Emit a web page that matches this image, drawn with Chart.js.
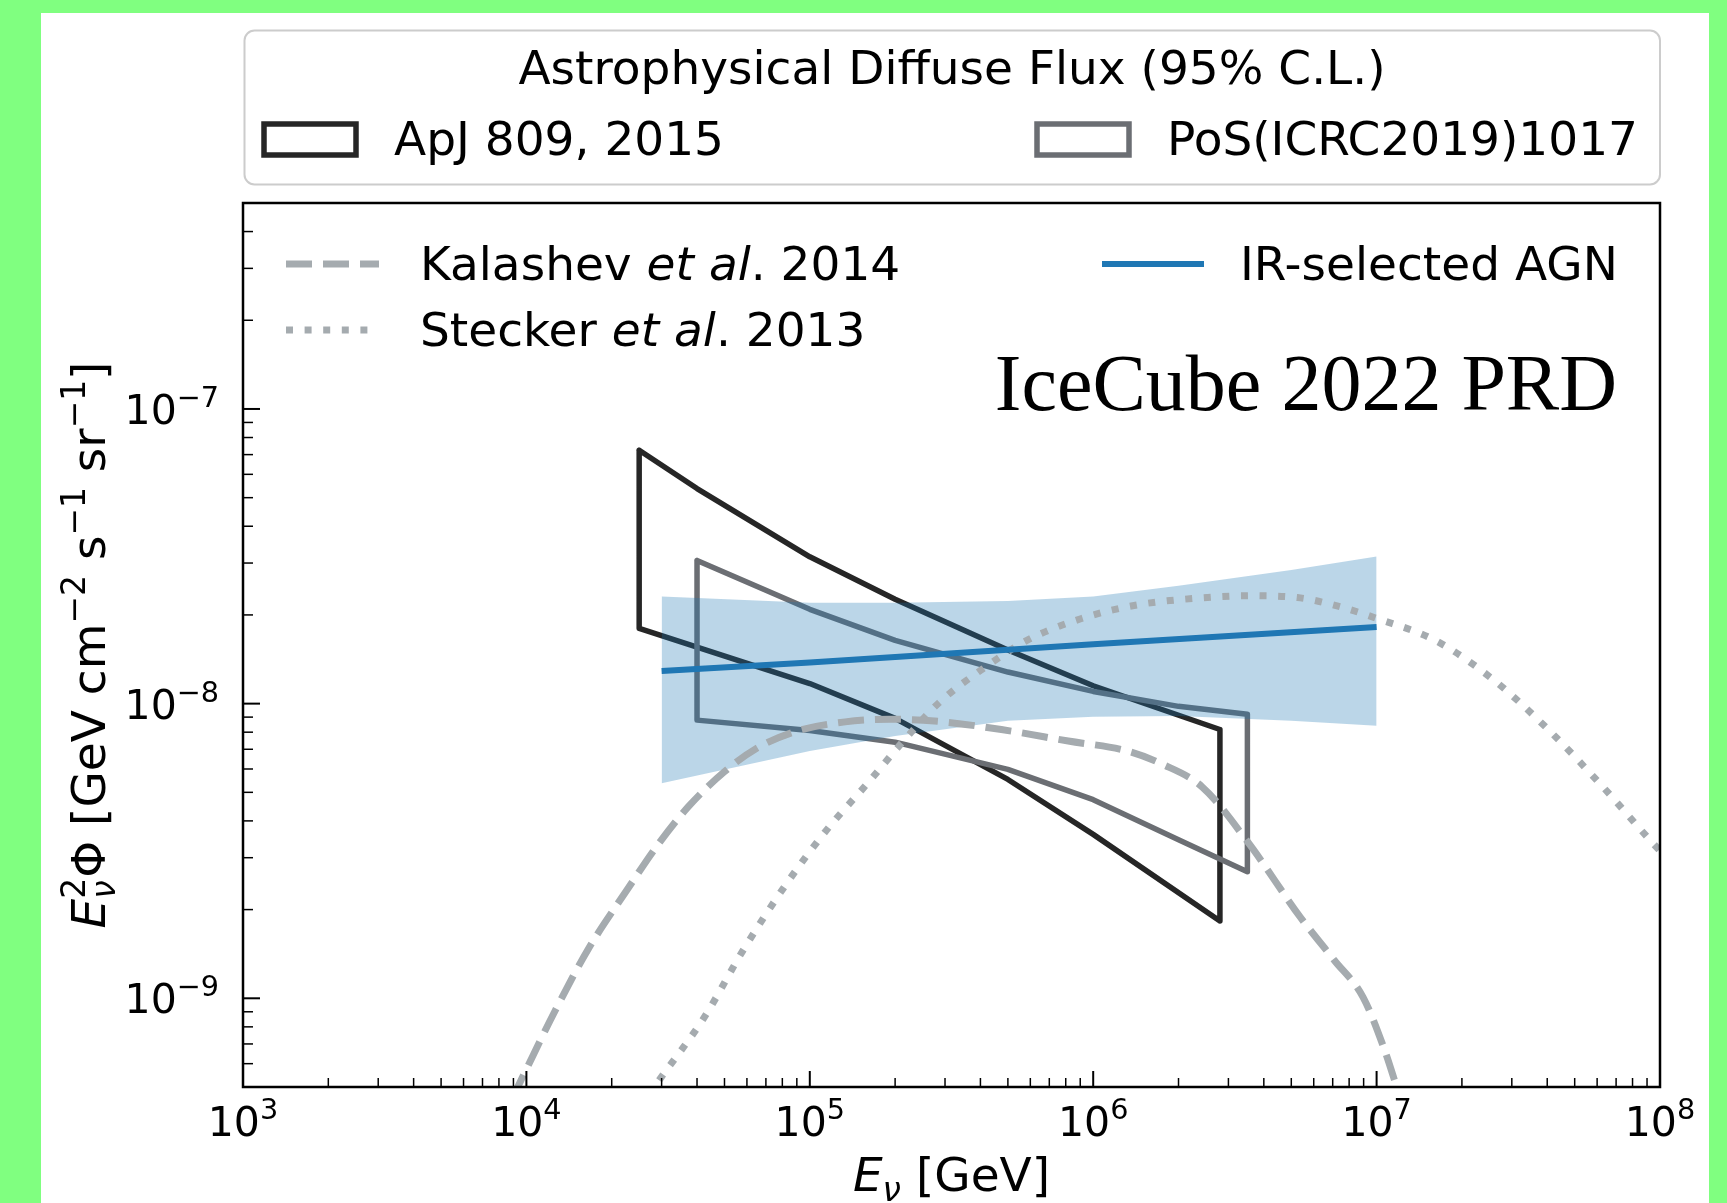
<!DOCTYPE html>
<html>
<head>
<meta charset="utf-8">
<title>Diffuse neutrino flux vs IR-selected AGN</title>
<script src="https://cdn.jsdelivr.net/npm/chart.js@4.4.0/dist/chart.umd.min.js"></script>
<style>
  html, body { margin: 0; padding: 0; }
  body { width: 1727px; height: 1203px; background: #80ff80; position: relative; overflow: hidden; }
  #panel { position: absolute; left: 41px; top: 13px; width: 1668px; height: 1190px; background: #fff; }
  #chart { position: absolute; left: 0; top: 0; }
</style>
</head>
<body>
<div id="panel"></div>
<canvas id="chart" width="1727" height="1203"></canvas>
<script>
// energies in GeV, fluxes as E^2 Phi in GeV cm^-2 s^-1 sr^-1

// ApJ 809 (2015) butterfly
const apjEnergy = [2.5e4, 4e4, 1e5, 2e5, 5e5, 1e6, 2.8e6];
const apjUpper  = [7.24e-8, 5.37e-8, 3.15e-8, 2.26e-8, 1.52e-8, 1.15e-8, 8.17e-9];
const apjLower  = [1.80e-8, 1.556e-8, 1.17e-8, 8.91e-9, 5.53e-9, 3.60e-9, 1.83e-9];

// PoS(ICRC2019)1017 butterfly
const posEnergy = [4e4, 1e5, 2e5, 5e5, 1e6, 2e6, 3.5e6];
const posUpper  = [3.06e-8, 2.09e-8, 1.64e-8, 1.28e-8, 1.10e-8, 9.79e-9, 9.20e-9];
const posLower  = [8.79e-9, 8.11e-9, 7.40e-9, 5.98e-9, 4.72e-9, 3.45e-9, 2.69e-9];

// IR-selected AGN best fit and its band
const agnEnergy = [3e4, 1e5, 1e6, 1e7];
const agnFlux   = [1.29e-8, 1.38e-8, 1.59e-8, 1.82e-8];
const bandEnergy = [3e4, 1e5, 2e5, 5e5, 1e6, 2e6, 5e6, 1e7];
const bandUpper  = [2.31e-8, 2.20e-8, 2.20e-8, 2.23e-8, 2.31e-8, 2.51e-8, 2.84e-8, 3.16e-8];
const bandLower  = [5.37e-9, 6.90e-9, 7.76e-9, 8.75e-9, 9.02e-9, 9.08e-9, 8.75e-9, 8.41e-9];

// Kalashev et al. 2014
const kalashevEnergy = [8913, 10000, 12589, 16596, 22542, 29040, 37411, 50003, 64565, 89331,
  133352, 191426, 275423, 474242, 816582, 1.309e6, 1.750e6, 2.427e6, 3.483e6, 5.383e6,
  7.079e6, 8.954e6, 1.057e7, 1.178e7, 1.230e7];
const kalashevFlux = [4.57e-10, 5.75e-10, 9.02e-10, 1.479e-9, 2.317e-9, 3.311e-9, 4.487e-9,
  5.875e-9, 7.031e-9, 8.054e-9, 8.670e-9, 8.851e-9, 8.730e-9, 8.166e-9, 7.464e-9, 6.918e-9,
  6.237e-9, 5.212e-9, 3.428e-9, 1.884e-9, 1.349e-9, 1.009e-9, 6.85e-10, 4.99e-10, 4.37e-10];

// Stecker et al. 2013
const steckerEnergy = [26915, 29717, 42462, 58076, 83176, 115345, 159956, 213796, 285759,
  410204, 590201, 909913, 1.409e6, 2.259e6, 3.548e6, 5.248e6, 7.482e6, 1.009e7, 1.607e7,
  2.553e7, 3.954e7, 6.295e7, 9.226e7, 1.047e8];
const steckerFlux = [4.68e-10, 5.35e-10, 8.63e-10, 1.452e-9, 2.466e-9, 3.75e-9, 5.37e-9,
  7.46e-9, 1.007e-8, 1.318e-8, 1.648e-8, 1.945e-8, 2.158e-8, 2.275e-8, 2.323e-8, 2.291e-8,
  2.128e-8, 1.941e-8, 1.641e-8, 1.216e-8, 8.32e-9, 5.21e-9, 3.44e-9, 3.02e-9];

// axis decades for the tick labels
const xTickExponents = [3, 4, 5, 6, 7, 8];
const yTickExponents = [-9, -8, -7];

const SANS = '"DejaVu Sans", "Liberation Sans", sans-serif';
const SERIF = '"Liberation Serif", "DejaVu Serif", serif';
const fontOf = (px, italic) => (italic ? 'italic ' : '') + px + 'px ' + SANS;

const toPoints = (xs, ys) => xs.map((x, i) => ({ x: x, y: ys[i] }));
const outline = (xs, upper, lower) => {
  const pts = toPoints(xs, upper).concat(toPoints(xs, lower).reverse());
  pts.push(pts[0]);
  return pts;
};

// lay out text runs with sub/superscripts; "stack" puts the next run at the same x
function layoutRuns(ctx, runs, size) {
  let x = 0, pending = null;
  const placed = [];
  runs.forEach(r => {
    const px = r.small ? size * 0.7 : size;
    ctx.font = fontOf(px, r.italic);
    const w = ctx.measureText(r.text).width;
    if (pending) {
      placed.push(Object.assign({}, r, { px: px, x: pending.x }));
      x = pending.x + Math.max(pending.w, w);
      pending = null;
    } else {
      placed.push(Object.assign({}, r, { px: px, x: x }));
      if (r.stack) pending = { x: x, w: w };
      else x += w;
    }
  });
  return { placed: placed, width: x };
}

function drawRuns(ctx, runs, size, x, y, align) {
  const lay = layoutRuns(ctx, runs, size);
  const x0 = align === 'center' ? x - lay.width / 2 : align === 'right' ? x - lay.width : x;
  ctx.textAlign = 'left';
  ctx.textBaseline = 'alphabetic';
  lay.placed.forEach(r => {
    ctx.font = fontOf(r.px, r.italic);
    ctx.fillText(r.text, x0 + r.x, y + (r.shift || 0) * size);
  });
}

const powerRuns = n => [
  { text: '10' },
  { text: n < 0 ? '\u2212' + (-n) : String(n), small: true, shift: -0.41 }
];

const frameAndLabels = {
  id: 'frameAndLabels',
  afterDatasetsDraw(chart) {
    const ctx = chart.ctx;
    const a = chart.chartArea;
    const xs = chart.scales.x, ys = chart.scales.y;
    ctx.save();
    ctx.strokeStyle = '#000';
    ctx.fillStyle = '#000';

    // inward ticks on bottom and left
    for (let d = 3; d <= 8; d++) {
      for (let m = 1; m <= 9; m++) {
        const v = m * Math.pow(10, d);
        if (v > xs.max * 1.0001) break;
        const px = xs.getPixelForValue(v);
        ctx.lineWidth = m === 1 ? 2 : 1.5;
        ctx.beginPath();
        ctx.moveTo(px, a.bottom);
        ctx.lineTo(px, a.bottom - (m === 1 ? 16 : 9));
        ctx.stroke();
      }
    }
    for (let d = -10; d <= -7; d++) {
      for (let m = 1; m <= 9; m++) {
        const v = m * Math.pow(10, d);
        if (v < ys.min * 0.9999 || v > ys.max * 1.0001) continue;
        const py = ys.getPixelForValue(v);
        ctx.lineWidth = m === 1 ? 2 : 1.5;
        ctx.beginPath();
        ctx.moveTo(a.left, py);
        ctx.lineTo(a.left + (m === 1 ? 17 : 10), py);
        ctx.stroke();
      }
    }

    // spines
    ctx.lineWidth = 2.5;
    ctx.strokeRect(a.left, a.top, a.right - a.left, a.bottom - a.top);

    // tick labels
    xTickExponents.forEach(n => {
      drawRuns(ctx, powerRuns(n), 41, xs.getPixelForValue(Math.pow(10, n)), a.bottom + 49, 'center');
    });
    yTickExponents.forEach(n => {
      drawRuns(ctx, powerRuns(n), 41, a.left - 24, ys.getPixelForValue(Math.pow(10, n)) + 15, 'right');
    });

    // axis titles
    drawRuns(ctx, [
      { text: 'E', italic: true },
      { text: '\u03bd', italic: true, small: true, shift: 0.22 },
      { text: ' [GeV]' }
    ], 47, (a.left + a.right) / 2, 1191, 'center');

    ctx.save();
    ctx.translate(105, (a.top + a.bottom) / 2);
    ctx.rotate(-Math.PI / 2);
    drawRuns(ctx, [
      { text: 'E', italic: true },
      { text: '2', small: true, shift: -0.42, stack: true },
      { text: '\u03bd', italic: true, small: true, shift: 0.22 },
      { text: '\u03a6' },
      { text: ' [GeV cm' },
      { text: '\u22122', small: true, shift: -0.42 },
      { text: ' s' },
      { text: '\u22121', small: true, shift: -0.42 },
      { text: ' sr' },
      { text: '\u22121', small: true, shift: -0.42 },
      { text: ']' }
    ], 47, 0, 0, 'center');
    ctx.restore();

    // publication tag
    ctx.font = '80px ' + SERIF;
    ctx.textAlign = 'right';
    ctx.textBaseline = 'alphabetic';
    ctx.fillText('IceCube 2022 PRD', 1617, 410);

    // model legend inside the axes
    ctx.lineCap = 'butt';
    ctx.strokeStyle = '#a5abaf';
    ctx.lineWidth = 7;
    ctx.setLineDash([26, 11]);
    ctx.beginPath(); ctx.moveTo(286, 264); ctx.lineTo(379, 264); ctx.stroke();
    ctx.setLineDash([7, 11.6]);
    ctx.beginPath(); ctx.moveTo(286, 330); ctx.lineTo(379, 330); ctx.stroke();
    ctx.setLineDash([]);
    ctx.strokeStyle = '#1f77b4';
    ctx.lineWidth = 6;
    ctx.beginPath(); ctx.moveTo(1102, 264); ctx.lineTo(1204, 264); ctx.stroke();

    ctx.fillStyle = '#000';
    drawRuns(ctx, [{ text: 'Kalashev ' }, { text: 'et al', italic: true }, { text: '. 2014' }], 47, 420, 280, 'left');
    drawRuns(ctx, [{ text: 'Stecker ' }, { text: 'et al', italic: true }, { text: '. 2013' }], 47, 420, 346, 'left');
    drawRuns(ctx, [{ text: 'IR-selected AGN' }], 47, 1240, 280, 'left');

    // measurement legend above the axes
    ctx.beginPath();
    ctx.roundRect(244.5, 30.5, 1415.5, 154, 10);
    ctx.fillStyle = '#fff';
    ctx.fill();
    ctx.strokeStyle = '#cccccc';
    ctx.lineWidth = 2;
    ctx.stroke();

    ctx.fillStyle = '#000';
    drawRuns(ctx, [{ text: 'Astrophysical Diffuse Flux (95% C.L.)' }], 47, 952, 84, 'center');

    ctx.lineWidth = 5.5;
    ctx.lineJoin = 'miter';
    ctx.strokeStyle = '#262626';
    ctx.strokeRect(264, 124, 92, 31);
    ctx.strokeStyle = '#6b6e73';
    ctx.strokeRect(1037, 124, 92, 31);
    drawRuns(ctx, [{ text: 'ApJ 809, 2015' }], 47, 394, 155, 'left');
    drawRuns(ctx, [{ text: 'PoS(ICRC2019)1017' }], 47, 1167, 155, 'left');

    ctx.restore();
  }
};

const line = (data, color, width, order, extra) => Object.assign({
  data: data,
  showLine: true,
  borderColor: color,
  borderWidth: width,
  pointRadius: 0,
  pointHoverRadius: 0,
  fill: false,
  tension: 0,
  order: order,
  clip: 0
}, extra || {});

new Chart(document.getElementById('chart'), {
  type: 'scatter',
  data: {
    datasets: [
      line(toPoints(agnEnergy, agnFlux), '#1f77b4', 6, 1),
      line(toPoints(kalashevEnergy, kalashevFlux), '#a5abaf', 7, 2,
        { borderDash: [26, 11], cubicInterpolationMode: 'monotone' }),
      line(toPoints(steckerEnergy, steckerFlux), '#a5abaf', 7, 2,
        { borderDash: [7, 11.6], cubicInterpolationMode: 'monotone' }),
      line(toPoints(bandEnergy, bandUpper), 'rgba(0,0,0,0)', 0, 3,
        { fill: '+1', backgroundColor: 'rgba(31,119,180,0.3)' }),
      line(toPoints(bandEnergy, bandLower), 'rgba(0,0,0,0)', 0, 3),
      line(outline(posEnergy, posUpper, posLower), '#6b6e73', 5.5, 4,
        { borderJoinStyle: 'round', borderCapStyle: 'round' }),
      line(outline(apjEnergy, apjUpper, apjLower), '#262626', 5.5, 5,
        { borderJoinStyle: 'round', borderCapStyle: 'round' })
    ]
  },
  options: {
    responsive: false,
    animation: false,
    devicePixelRatio: 1,
    layout: { padding: { left: 243, right: 67, top: 203, bottom: 116 } },
    scales: {
      x: { type: 'logarithmic', min: 1e3, max: 1e8, display: false },
      y: { type: 'logarithmic', min: 5e-10, max: 5e-7, display: false }
    },
    plugins: {
      legend: { display: false },
      tooltip: { enabled: false }
    },
    events: []
  },
  plugins: [frameAndLabels]
});
</script>
</body>
</html>
